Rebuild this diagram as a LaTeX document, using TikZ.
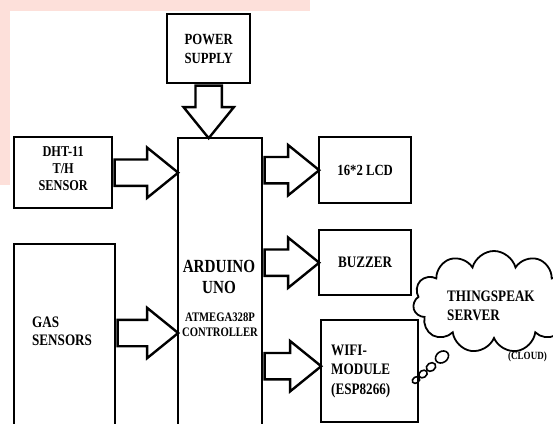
\documentclass[tikz,border=0pt]{standalone}
\usepackage{fontspec}
\setmainfont[FakeStretch=0.82]{Liberation Serif}
\usetikzlibrary{positioning,calc,shapes.arrows,shapes.symbols,shapes.geometric}
\definecolor{wmpink}{RGB}{253,224,218}

% hollow block arrow from #1 to #2
\newcommand\fatarrow[2]{%
  \path let \p1=(#1), \p2=(#2), \n1={veclen(\x2-\x1,\y2-\y1)},
    \n2={atan2(\y2-\y1,\x2-\x1)} in
    node[fat,minimum height=\n1,rotate=\n2,anchor=tail] at (#1) {};}

\begin{document}
\begin{tikzpicture}[x=1pt,y=-1pt,line width=2.4pt,
      b/.style={draw,anchor=north west,align=center,inner sep=0pt},
      fat/.style={draw,single arrow,inner sep=0pt,text height=24pt,text depth=0pt,
        single arrow head extend=12pt,single arrow tip angle=78},
      bub/.style={draw,ellipse,inner sep=0pt,rotate=35,line width=1.6pt}]
    \useasboundingbox (0,0) rectangle (553,423);
    \fill[white] (0,0) rectangle (553,423);
    \fill[wmpink] (0,0) rectangle (310,11);
    \fill[wmpink] (0,0) rectangle (10,185);
    \clip (0,0) rectangle (553,423);

    \node[b,minimum width=83,minimum height=69,font=\bfseries\fontsize{15.5}{19}\selectfont]
      (pwr) at (166,13) {POWER\\SUPPLY};
    \node[b,minimum width=98,minimum height=71,text depth=8pt,font=\bfseries\fontsize{15}{17}\selectfont]
      (dht) at (13,136) {DHT-11\\T/H\\SENSOR};
    \node[b,minimum width=101,minimum height=200] (gas) at (13,243) {};
    \node[anchor=west,align=left,inner sep=0pt,font=\bfseries\fontsize{16}{18}\selectfont]
      (gastxt) at (31,331) {GAS\\SENSORS};
    \node[b,minimum width=84,minimum height=300] (ard) at (177,137) {};
    \node[align=center,inner sep=0pt,font=\bfseries\fontsize{18.5}{21}\selectfont]
      (ardtxt) at (219,277) {ARDUINO\\UNO};
    \node[align=center,inner sep=0pt,font=\bfseries\fontsize{13}{15}\selectfont]
      (mcu) at (220,325) {ATMEGA328P\\CONTROLLER};
    \node[b,minimum width=92,minimum height=66,font=\bfseries\fontsize{15.5}{18}\selectfont]
      (lcd) at (318,136) {16*2 LCD};
    \node[b,minimum width=92,minimum height=65,font=\bfseries\fontsize{16}{18}\selectfont]
      (buz) at (318,229) {BUZZER};
    \node[b,minimum width=97,minimum height=102,text width=77pt,inner xsep=10pt,align=left,
      font=\bfseries\fontsize{16}{19.5}\selectfont] (wifi) at (320,319) {WIFI-\\MODULE\\(ESP8266)};

    \node[cloud,draw,line width=1.8pt,cloud puffs=11,minimum width=162,minimum height=102]
      (cld) at (494,302) {};
    \node[anchor=west,align=left,inner sep=0pt,font=\bfseries\fontsize{16}{19}\selectfont]
      (srv) at (446,306) {THINGSPEAK\\SERVER};
    \node[anchor=west,inner sep=0pt,font=\bfseries\fontsize{11}{13}\selectfont]
      (cldtxt) at (507,357) {(CLOUD)};

    % thought bubble
    \node[bub,minimum width=8,minimum height=6] (o1) at (416,380) {};
    \node[bub,minimum width=9,minimum height=7] (o2) at (423,374) {};
    \node[bub,minimum width=10,minimum height=8] (o3) at (431,367) {};
    \node[bub,minimum width=14,minimum height=11] (o4) at (442,357) {};

    \coordinate (pin) at (pwr.south |- ard.north);
    \coordinate (din) at (dht.east -| ard.west);
    \coordinate (gout) at ($(gas.north east)+(0,90)$);
    \coordinate (gin) at (gout -| ard.west);
    \coordinate (lout) at (lcd.west -| ard.east);
    \coordinate (bout) at (buz.west -| ard.east);
    \coordinate (win) at ($(wifi.west)+(0,-5)$);
    \coordinate (wout) at (win -| ard.east);

    \fatarrow{pwr.south}{pin}
    \fatarrow{dht.east}{din}
    \fatarrow{gout}{gin}
    \fatarrow{lout}{lcd.west}
    \fatarrow{bout}{buz.west}
    \fatarrow{wout}{win}
  \end{tikzpicture}
\end{document}
